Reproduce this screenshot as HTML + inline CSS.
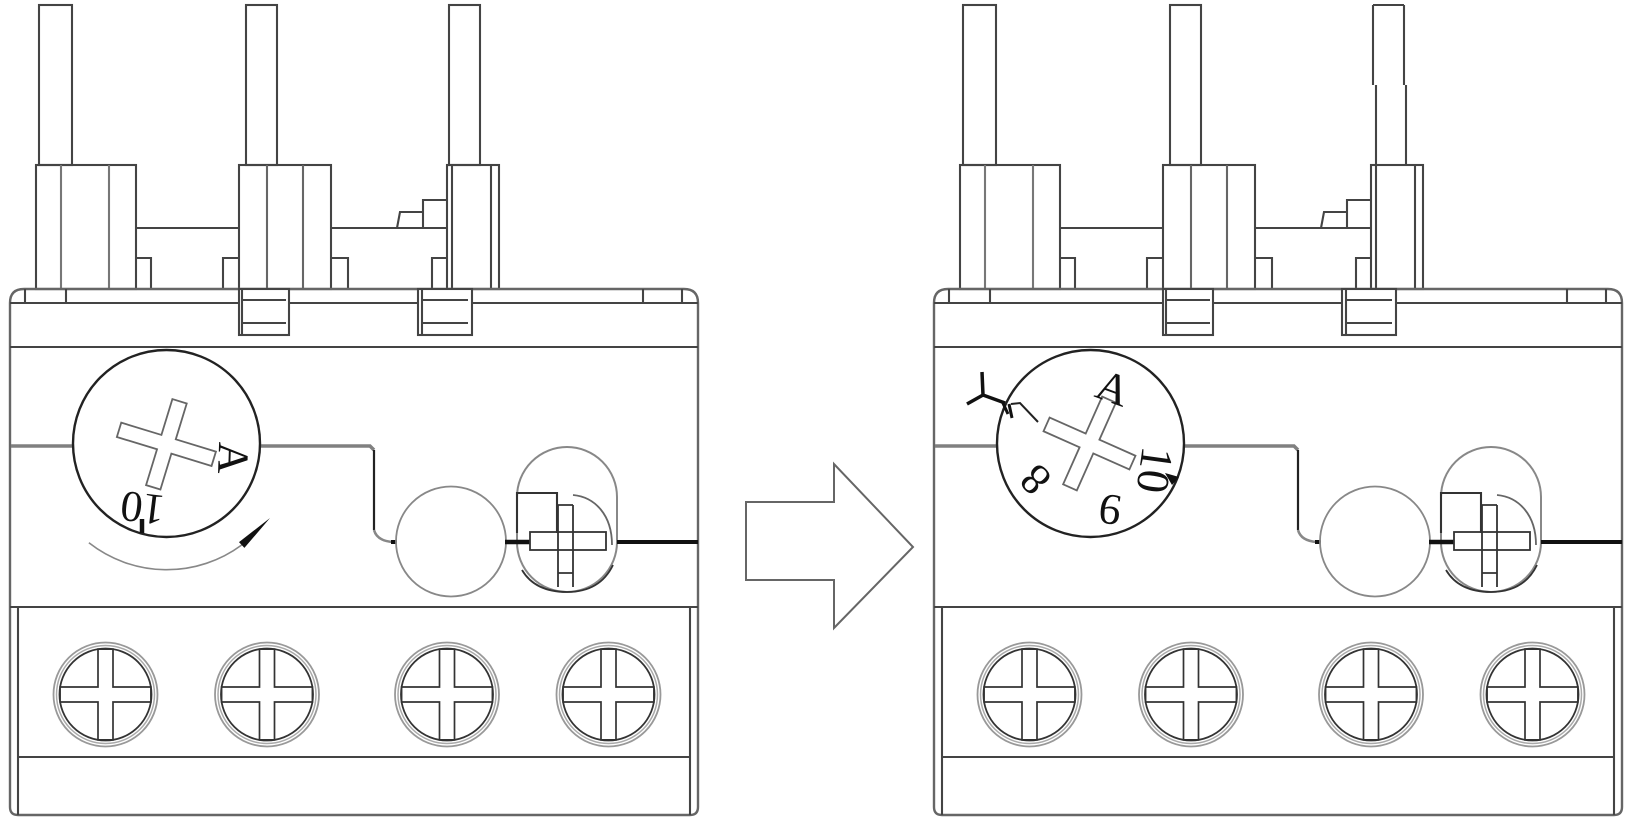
<!DOCTYPE html>
<html><head><meta charset="utf-8"><style>
html,body{margin:0;padding:0;background:#fff;}
svg{display:block;}
text{font-family:"Liberation Serif",serif;font-size:44px;fill:#111;}
</style></head><body>
<svg width="1634" height="827" viewBox="0 0 1634 827" xmlns="http://www.w3.org/2000/svg">
<defs>
<g id="screw">
  <circle r="52" fill="#fff" stroke="#999" stroke-width="1.8"/>
  <circle r="49" fill="none" stroke="#aaa" stroke-width="1.5"/>
  <circle r="46" fill="none" stroke="#333" stroke-width="1.8"/>
  <path d="M-7.5,-45.4 H7.5 V-7.5 H45.4 V7.5 H7.5 V45.4 H-7.5 V7.5 H-45.4 V-7.5 H-7.5 Z" fill="#fff" stroke="#333" stroke-width="1.7"/>
</g>
<g id="unit" fill="none" stroke="#444" stroke-width="2.1">
  <!-- pins -->
  <rect x="39" y="5" width="33" height="160"/>
  <rect x="246" y="5" width="31" height="160"/>
  <!-- blocks -->
  <rect x="36" y="165" width="100" height="124"/>
  <path d="M61,165V289 M109,165V289" stroke="#777"/>
  <rect x="239" y="165" width="92" height="124"/>
  <path d="M267,165V289 M303,165V289" stroke="#666"/>
  <rect x="447" y="165" width="52" height="124"/>
  <path d="M452,165V289 M491,165V289"/>
  <!-- connectors -->
  <path d="M136,228H239 M136,258H151V289 M239,258H223V289"/>
  <path d="M331,228H447 M397,228L400,212H423V228 M423,212V200H447 M331,258H348V289 M447,258H432V289"/>
  <!-- body -->
  <path d="M10,303 Q10,289 24,289 L684,289 Q698,289 698,303 L698,807 Q698,815 690,815 L18,815 Q10,815 10,807 Z" stroke="#666" stroke-width="2.4"/>
  <path d="M10,303H698 M25,289V303 M66,289V303 M643,289V303 M682,289V303"/>
  <rect x="239" y="289" width="50" height="46" fill="#fff"/>
  <path d="M242,289V335 M242,300H286 M242,323H286"/>
  <rect x="418" y="289" width="54" height="46" fill="#fff"/>
  <path d="M422,289V335 M422,300H468 M422,323H468"/>
  <path d="M10,347H698 M10,607H698 M18,757H690 M18,607V815 M690,607V815"/>
  <!-- dial line & linkage -->
  <path d="M11,446H73 M260,446H370L374,450" stroke="#808080" stroke-width="3.5"/>
  <path d="M374,450V530" stroke="#222" stroke-width="2.2"/>
  <path d="M374,530 Q377,541 393,542" stroke="#888" stroke-width="2.5"/>
  <path d="M391,542H397" stroke="#111" stroke-width="4"/>
  <circle cx="451" cy="541.5" r="55" stroke="#888" stroke-width="1.8"/>
  <rect x="517" y="447" width="100" height="145" rx="50" ry="50" stroke="#888" stroke-width="2"/>
  <path d="M522,570 Q535,592 567,592 Q600,592 613,565" stroke="#333" stroke-width="1.8"/>
  <path d="M505,542H530" stroke="#111" stroke-width="4.5"/>
  <path d="M517,533V493H557V533" stroke="#333"/>
  <rect x="530" y="532" width="76" height="18" stroke="#333" stroke-width="1.8"/>
  <path d="M558,505V587 M573,505V587 M558,505H573 M558,573H573" stroke="#333" stroke-width="1.8"/>
  <path d="M573,495 C595,497 612,515 612,545" stroke="#666" stroke-width="1.8"/>
  <path d="M617,542H698" stroke="#111" stroke-width="4"/>
  <!-- screws -->
  <use href="#screw" x="105.5" y="694.5"/>
  <use href="#screw" x="267" y="694.5"/>
  <use href="#screw" x="447" y="694.5"/>
  <use href="#screw" x="608.5" y="694.5"/>
</g>
</defs>

<use href="#unit"/>
<use href="#unit" x="924"/>

<!-- third pins -->
<rect x="449" y="5" width="31" height="160" fill="none" stroke="#444" stroke-width="2.1"/>
<path d="M1373,5V85 M1376,85V165 M1373,5H1404 M1404,5V85 M1406,85V165 M1373,165H1406" fill="none" stroke="#444" stroke-width="2.1"/>

<!-- Left dial -->
<circle cx="166.5" cy="443.5" r="93.5" fill="#fff" stroke="#222" stroke-width="2.4"/>
<g transform="translate(166.4,444.3) rotate(17)">
  <path d="M-7.5,-45 H7.5 V-7.5 H49.5 V7.5 H7.5 V45 H-7.5 V7.5 H-49.5 V-7.5 H-7.5 Z" fill="#fff" stroke="#666" stroke-width="1.8"/>
</g>
<text transform="translate(233,458) rotate(92)" text-anchor="middle" y="14.5">A</text>
<text transform="translate(142.5,508.5) rotate(187)" text-anchor="middle" y="15">10</text>
<path d="M142,519V533" stroke="#111" stroke-width="4.5"/>
<path d="M88.9,542.8 A126,126 0 0 0 241.7,545" fill="none" stroke="#888" stroke-width="1.6"/>
<polygon points="270,518 244.4,547.9 239,542.1" fill="#111"/>

<!-- Arrow -->
<path d="M746,502 L834,502 L834,464 L913,547 L834,628 L834,580 L746,580 Z" fill="none" stroke="#666" stroke-width="2"/>

<!-- Right dial -->
<circle cx="1090.5" cy="443.5" r="93.5" fill="#fff" stroke="#222" stroke-width="2.4"/>
<g transform="translate(1089.5,443.5) rotate(24)">
  <path d="M-7.5,-48 H7.5 V-7.5 H47 V7.5 H7.5 V48 H-7.5 V7.5 H-47 V-7.5 H-7.5 Z" fill="#fff" stroke="#666" stroke-width="1.8"/>
</g>
<text transform="translate(1113,388) rotate(20)" text-anchor="middle" y="14.5">A</text>
<text transform="translate(1155,470) rotate(98)" text-anchor="middle" y="15.5" style="font-size:46px">10</text>
<text transform="translate(1110,510) rotate(188)" text-anchor="middle" y="15">9</text>
<text transform="translate(1035,480) rotate(225)" text-anchor="middle" y="15">8</text>
<polygon points="1165,473 1179,477 1172,485" fill="#111"/>
<path d="M967,404 L983,395 L1005,403 M983,395 L982,372" fill="none" stroke="#111" stroke-width="3.5"/>
<path d="M1002,401 L1008,414 M1009,404 L1012,418" fill="none" stroke="#111" stroke-width="3"/>
<path d="M1011,404 L1020,403 L1038,422" fill="none" stroke="#222" stroke-width="2"/>
</svg>
</body></html>
